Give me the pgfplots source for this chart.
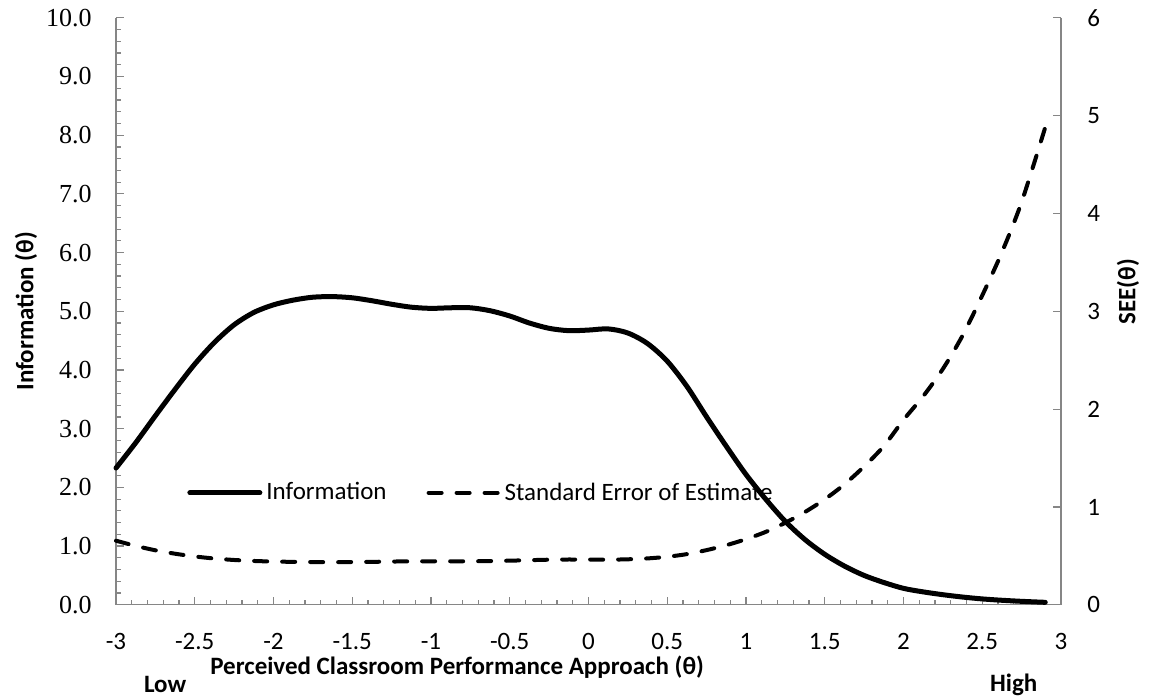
\documentclass[border=0pt]{standalone}
\usepackage{fontspec}
\setmainfont{Carlito}
\newfontfamily\tnr{Liberation Serif}
\usepackage{pgfplots}
\pgfplotsset{compat=1.18}
\definecolor{axgray}{RGB}{134,134,134}
\newcommand{\fs}{\fontsize{12.5}{15}\selectfont}

\begin{document}
\begin{tikzpicture}
\path[use as bounding box] (-58pt,-47.5pt) rectangle (517pt,302.4pt);
\begin{axis}[
  at={(0,0)}, anchor=south west,
  width=472.5pt, height=293.5pt, scale only axis,
  xmin=-3, xmax=3, ymin=0, ymax=10,
  axis x line*=bottom, axis y line*=left,
  axis line style={axgray, line width=0.6pt},
  every tick/.style={axgray, line width=0.6pt},
  tick align=inside,
  major tick length=4pt, minor tick length=2.3pt,
  xtick={-3,-2.5,-2,-1.5,-1,-0.5,0,0.5,1,1.5,2,2.5,3},
  xticklabels={-3,-2.5,-2,-1.5,-1,-0.5,0,0.5,1,1.5,2,2.5,3},
  minor x tick num=4,
  ytick={0,1,2,3,4,5,6,7,8,9,10},
  yticklabels={0.0,1.0,2.0,3.0,4.0,5.0,6.0,7.0,8.0,9.0,10.0},
  minor y tick num=4,
  xticklabel style={font=\fs, anchor=base, yshift=-22.5pt},
  yticklabel style={font=\tnr\fontsize{13}{15}\selectfont, anchor=east, inner sep=0pt, xshift=-12pt},
  xlabel={\textbf{Perceived Classroom Performance Approach (θ)}},
  xlabel style={font=\fs, at={(axis description cs:0.361,0)}, anchor=center, yshift=-31pt},
  ylabel={\textbf{Information (θ)}},
  ylabel style={font=\fs, at={(axis description cs:0,0.5)}, anchor=center, yshift=45pt},
  clip=false,
]
\addplot[black, line width=2.5pt, line cap=round, line join=round, smooth] coordinates {
(-3.0,2.33) (-2.875,2.76) (-2.75,3.22) (-2.625,3.67) (-2.5,4.10) (-2.375,4.47)
(-2.25,4.77) (-2.125,4.98) (-2.0,5.11) (-1.875,5.19) (-1.75,5.24) (-1.625,5.25)
(-1.5,5.23) (-1.375,5.18) (-1.25,5.12) (-1.125,5.07) (-1.0,5.05) (-0.875,5.06)
(-0.75,5.06) (-0.625,5.01) (-0.5,4.92) (-0.375,4.80) (-0.25,4.71) (-0.125,4.67)
(0.0,4.68) (0.125,4.70) (0.25,4.63) (0.375,4.45) (0.5,4.15) (0.625,3.72)
(0.75,3.20) (0.875,2.70) (1.0,2.22) (1.125,1.80) (1.25,1.42) (1.375,1.11)
(1.5,0.86) (1.625,0.66) (1.75,0.50) (1.875,0.38) (2.0,0.28) (2.125,0.22)
(2.25,0.172) (2.375,0.132) (2.5,0.100) (2.625,0.077) (2.75,0.059) (2.9,0.042)
};
\node[font=\fs\bfseries] at (axis description cs:0.052,0) [yshift=-40pt] {Low};
\node[font=\fs\bfseries] at (axis description cs:0.950,0) [yshift=-40pt] {High};
\end{axis}
\begin{axis}[
  at={(0,0)}, anchor=south west,
  width=472.5pt, height=293.5pt, scale only axis,
  xmin=-3, xmax=3, ymin=0, ymax=6,
  axis x line=none, axis y line*=right,
  axis line style={axgray, line width=0.6pt},
  every tick/.style={axgray, line width=0.6pt},
  tick align=inside, major tick length=4pt,
  ytick={0,1,2,3,4,5,6},
  yticklabels={0,1,2,3,4,5,6},
  yticklabel style={font=\fs, anchor=west, inner sep=0pt, xshift=13pt},
  ylabel={\textbf{SEE(θ)}},
  ylabel style={font=\fs, at={(axis description cs:1,0.533)}, anchor=center, yshift=-33.5pt},
  legend columns=2,
  legend style={at={(0.0751,0.1907)}, anchor=west, draw=none, fill=none, font=\fs,
    inner sep=0pt, /tikz/every even column/.append style={column sep=18pt}},
  legend image code/.code={\draw[#1] (0pt,0pt) -- (35pt,0pt);},
  legend cell align=left,
  clip=false,
]
\addlegendimage{black, line width=2.5pt, line cap=round}
\addlegendentry{Information}
\addplot[black, line width=2pt, line cap=round, dash pattern=on 6.5pt off 7.5pt, smooth] coordinates {
(-3.0,0.655) (-2.875,0.602) (-2.75,0.557) (-2.625,0.522) (-2.5,0.494) (-2.375,0.473)
(-2.25,0.458) (-2.125,0.448) (-2.0,0.442) (-1.875,0.439) (-1.75,0.437) (-1.625,0.436)
(-1.5,0.437) (-1.375,0.439) (-1.25,0.442) (-1.125,0.444) (-1.0,0.445) (-0.875,0.445)
(-0.75,0.445) (-0.625,0.447) (-0.5,0.451) (-0.375,0.456) (-0.25,0.461) (-0.125,0.463)
(0.0,0.462) (0.125,0.461) (0.25,0.465) (0.375,0.474) (0.5,0.491) (0.625,0.518)
(0.75,0.559) (0.875,0.609) (1.0,0.671) (1.125,0.745) (1.25,0.839) (1.375,0.949)
(1.5,1.078) (1.625,1.231) (1.75,1.414) (1.875,1.622) (2.0,1.890) (2.125,2.132)
(2.25,2.411) (2.375,2.752) (2.5,3.162) (2.625,3.604) (2.75,4.117) (2.9,4.880)
};
\addlegendentry{Standard Error of Estimate}
\end{axis}
\end{tikzpicture}
\end{document}
